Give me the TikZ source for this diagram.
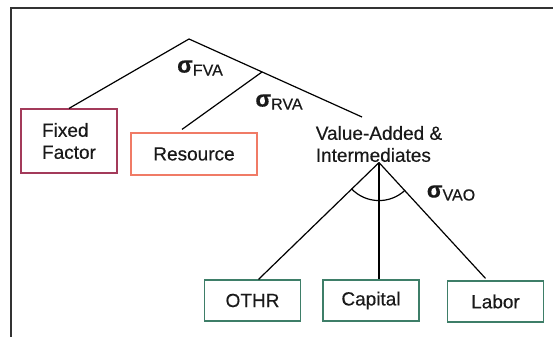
\documentclass[tikz,border=0pt]{standalone}
\usepackage{fontspec}
\setmainfont{Liberation Sans}[FakeBold=0.4]
\definecolor{ffred}{HTML}{A33A5A}
\definecolor{resred}{HTML}{F07B66}
\definecolor{leafgreen}{HTML}{3E7E68}
\newcommand{\elast}[1]{{\fontsize{23}{23}\selectfont\bfseries σ}\raisebox{-3pt}{\fontsize{16}{16}\selectfont #1}}

\begin{document}
\begin{tikzpicture}[x=1pt, y=1pt, line width=1.2pt,
  every node/.style = {align=left, inner sep=0pt, text=black!90,
    font=\fontsize{19}{22}\selectfont},
  box/.style = {shape=rectangle, draw, line width=1.2pt,
    minimum width=96pt, minimum height=41pt}]
  \useasboundingbox (0,0) rectangle (553,337);
  \draw[line width=2pt, black!80] (553,329) -- (11,329) -- (11,0);

  \coordinate (top) at (189,298);
  \coordinate (vaend) at (362,220);
  \coordinate (rj) at (262,265);
  \node[box, draw=ffred, minimum height=64pt] (ff) at (69,196) {Fixed\\Factor};
  \node[box, draw=resred, minimum width=126pt, minimum height=42pt] (res) at (194,183) {Resource};
  \node (va) at (379,193) {Value-Added \&\\Intermediates};
  \node[box, draw=leafgreen] (othr) at (252.5,36.5) {OTHR};
  \node[box, draw=leafgreen] (cap) at (371,36.5) {Capital};
  \node[box, draw=leafgreen] (lab) at (495.5,35.5) {Labor};
  \node (sfva) at (200,269) {\elast{FVA}};
  \node (srva) at (279,235) {\elast{RVA}};
  \node (svao) at (451,144) {\elast{VAO}};

  \draw (top) -- (ff.north);
  \draw (top) -- (vaend);
  \draw (rj) -- ([xshift=-12pt, yshift=3pt]res.north);
  \draw (va.south) -- ([xshift=6pt]othr.north);
  \draw (va.south) -- (va.south |- cap.north);
  \draw (va.south) -- ([xshift=-10pt, yshift=2pt]lab.north);
  \draw (va.south) ++(223.5:38) arc[start angle=223.5, end angle=313.4, radius=38];

\end{tikzpicture}
\end{document}
